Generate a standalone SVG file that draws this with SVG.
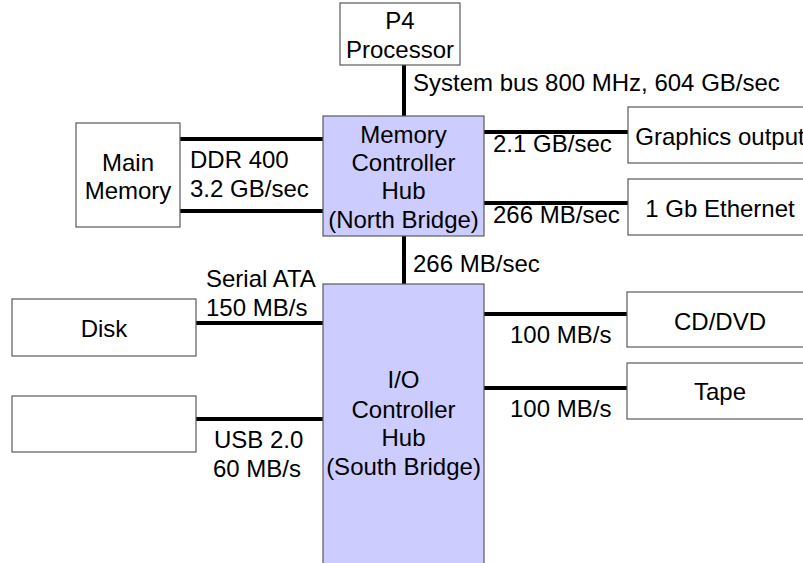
<svg xmlns="http://www.w3.org/2000/svg" width="803" height="563" viewBox="0 0 803 563">
<style>
.box{fill:#ffffff;stroke:#5a5a5a;stroke-width:1.2}
.hub{fill:#ccccff;stroke:#5a5a5a;stroke-width:1.2}
.bus{stroke:#000;stroke-width:4;fill:none}
text{font-family:"Liberation Sans",Arial,sans-serif;font-size:24px;fill:#000}
.c{text-anchor:middle}
</style>
<rect width="803" height="563" fill="#ffffff"/>
<g id="connectors">
<line class="bus" x1="404" y1="65" x2="404" y2="116"/>
<line class="bus" x1="404" y1="236" x2="404" y2="284"/>
<line class="bus" x1="180" y1="139" x2="323" y2="139"/>
<line class="bus" x1="180" y1="211" x2="323" y2="211"/>
<line class="bus" x1="484" y1="132" x2="628" y2="132"/>
<line class="bus" x1="484" y1="203" x2="628" y2="203"/>
<line class="bus" x1="196" y1="323" x2="323" y2="323"/>
<line class="bus" x1="196" y1="419" x2="323" y2="419"/>
<line class="bus" x1="484" y1="314" x2="627" y2="314"/>
<line class="bus" x1="484" y1="388" x2="627" y2="388"/>
<text x="413" y="91">System bus 800 MHz, 604 GB/sec</text>
<text x="190" y="168">DDR 400</text>
<text x="190" y="197">3.2 GB/sec</text>
<text x="493" y="152">2.1 GB/sec</text>
<text x="493" y="223">266 MB/sec</text>
<text x="413" y="272">266 MB/sec</text>
<text x="206" y="287">Serial ATA</text>
<text x="206" y="316">150 MB/s</text>
<text x="214" y="448">USB 2.0</text>
<text x="213" y="477">60 MB/s</text>
<text x="510" y="343">100 MB/s</text>
<text x="510" y="417">100 MB/s</text>
</g>
<g id="p4">
<rect class="box" x="340" y="3" width="120" height="62"/>
<text class="c" x="400" y="29">P4</text>
<text class="c" x="400" y="58">Processor</text>
</g>
<g id="mch">
<rect class="hub" x="323" y="116" width="161" height="120"/>
<text class="c" x="403.5" y="143">Memory</text>
<text class="c" x="403.5" y="171">Controller</text>
<text class="c" x="403.5" y="199">Hub</text>
<text class="c" x="403.5" y="228">(North Bridge)</text>
</g>
<g id="main-memory">
<rect class="box" x="76" y="123" width="104" height="104"/>
<text class="c" x="128" y="171">Main</text>
<text class="c" x="128" y="199">Memory</text>
</g>
<g id="graphics">
<rect class="box" x="628" y="107" width="190" height="56"/>
<text class="c" x="720" y="145">Graphics output</text>
</g>
<g id="ethernet">
<rect class="box" x="628" y="179" width="190" height="56"/>
<text class="c" x="720" y="217">1 Gb Ethernet</text>
</g>
<g id="ich">
<rect class="hub" x="323" y="284" width="161" height="300"/>
<text class="c" x="403.5" y="388">I/O</text>
<text class="c" x="403.5" y="418">Controller</text>
<text class="c" x="403.5" y="446">Hub</text>
<text class="c" x="403.5" y="475">(South Bridge)</text>
</g>
<g id="disk">
<rect class="box" x="12" y="299" width="184" height="57"/>
<text class="c" x="104" y="337">Disk</text>
</g>
<g id="usb-device">
<rect class="box" x="12" y="396" width="184" height="56"/>
</g>
<g id="cddvd">
<rect class="box" x="627" y="292" width="190" height="55"/>
<text class="c" x="720" y="330">CD/DVD</text>
</g>
<g id="tape">
<rect class="box" x="627" y="363" width="190" height="56"/>
<text class="c" x="720" y="400">Tape</text>
</g>
</svg>
